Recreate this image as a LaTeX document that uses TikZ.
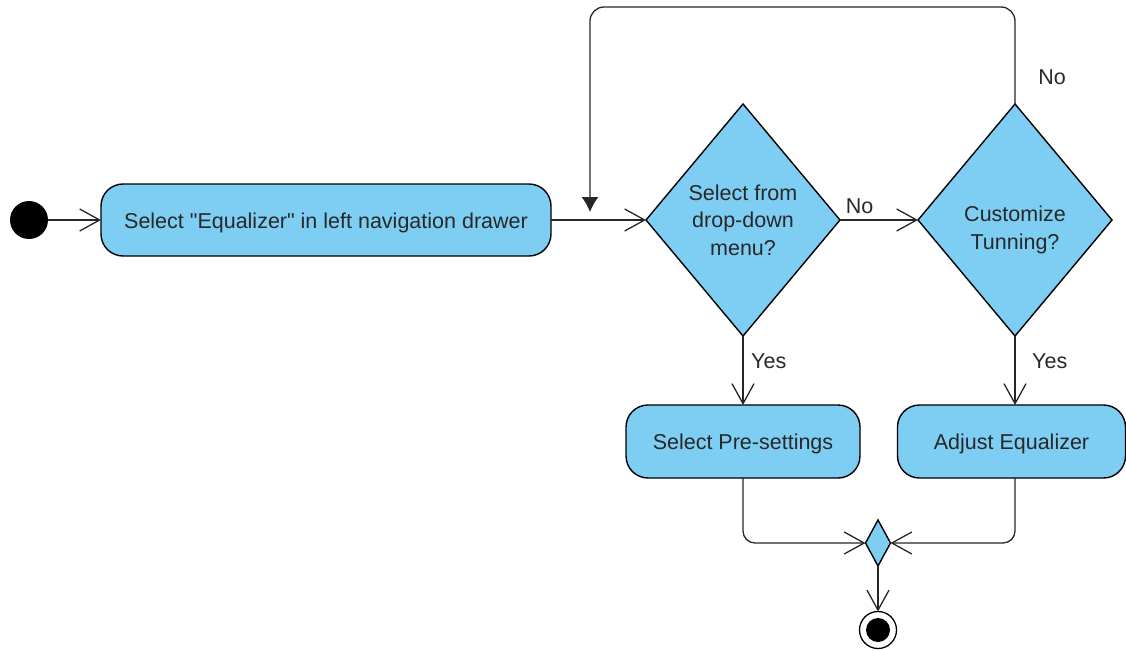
\documentclass[tikz,border=0pt]{standalone}
\usepackage{fontspec}
\setmainfont{Liberation Sans}[Ligatures=TeXOff]
\usetikzlibrary{shapes.geometric,arrows.meta}
\definecolor{actfill}{RGB}{126,206,244}
\definecolor{txt}{RGB}{40,40,40}
\tikzset{
  every node/.style={font=\fontsize{21.5}{27.5}\selectfont, text=txt},
  act/.style={draw=black, fill=actfill, line width=1.4pt, rounded corners=22pt, inner sep=0pt, outer sep=0pt, text height=17.5pt, text depth=1pt},
  dec/.style={draw=black, fill=actfill, line width=1.4pt, diamond, inner sep=0pt, outer sep=0pt, align=center},
  flow/.style={line width=1.3pt, draw=black!85, -{Straight Barb[length=20pt,width=22pt,line width=1.3pt]}},
  lbl/.style={inner sep=0pt}
}
\begin{document}
\begin{tikzpicture}[x=1pt,y=-1pt]
\useasboundingbox (0,0) rectangle (1126,650);
% start
\node[circle, fill=black, minimum size=38pt, inner sep=0pt, outer sep=0pt] (start) at (29,220) {};
% activities
\node[act, minimum width=450pt, minimum height=72pt] (a1) at (326,220) {Select "Equalizer" in left navigation drawer};
\node[act, minimum width=234pt, minimum height=73pt] (a2) at (743,441.5) {Select Pre-settings};
\node[act, minimum width=228pt, minimum height=73pt] (a3) at (1011.5,441.5) {Adjust Equalizer};
% decisions
\node[dec, minimum width=194pt, minimum height=232pt] (d1) at (743,220) {Select from\\drop-down\\menu?};
\node[dec, minimum width=194pt, minimum height=232pt, text height=58pt, text depth=0pt] (d2) at (1015,220) {Customize\\Tunning?};
% merge
\node[dec, minimum width=25pt, minimum height=46pt] (m) at (878,543) {};
% end
\node[circle, draw=black, fill=white, line width=1.3pt, minimum size=37pt, inner sep=0pt, outer sep=0pt] (end) at (878,630) {};
\node[circle, fill=black, minimum size=24pt, inner sep=0pt] (endin) at (878,630) {};
% connectors
\draw[flow] (start.east) -- (a1.west);
\draw[flow] (a1.east) -- (d1.west);
\draw[flow] (d1.east) -- node[lbl, pos=0.25, above=6pt] {No} (d2.west);
\draw[flow] (d1.south) -- (a2.north);
\node[lbl, anchor=west] (y1) at (751,361) {Yes};
\draw[flow] (d2.south) -- (d2.south |- a3.north);
\node[lbl, anchor=west] (y2) at (1032,361) {Yes};
\node[lbl] (n2) at (1052,77) {No};
\coordinate (loopend) at (590,212);
\coordinate (looptop) at (590,7);
\draw[line width=1.3pt, draw=black!85, rounded corners=14pt, -{Latex[length=15pt,width=17pt]}] (d2.north) |- (looptop) -- (loopend);
\draw[flow, rounded corners=12pt] (a2.south) |- (m.west);
\draw[flow, rounded corners=12pt] (a3.south -| d2.south) |- (m.east);
\draw[flow] (m.south) -- (end.north);
\end{tikzpicture}
\end{document}
